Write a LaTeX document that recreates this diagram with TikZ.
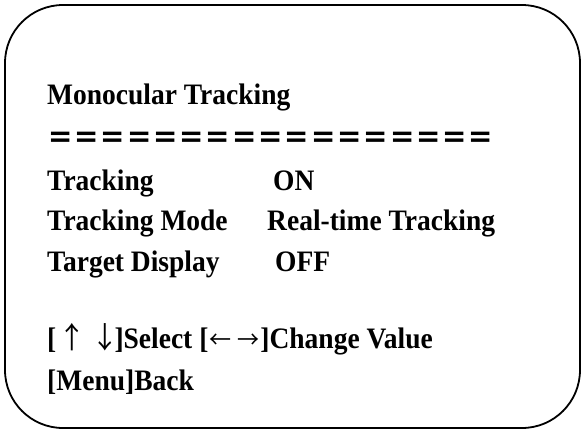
\documentclass[tikz,border=0pt]{standalone}
\usepackage{fontspec}
\setmainfont{Liberation Serif}
\newfontfamily\cjk{Noto Sans CJK SC}
\usetikzlibrary{positioning}

\begin{document}
\begin{tikzpicture}[x=1pt,y=-1pt, menu text/.style={anchor=base west,inner sep=0pt,font=\fontsize{27.5}{30}\selectfont\bfseries,yscale=1.08,transform shape}, value text/.style={menu text}]

  \useasboundingbox (0,0) rectangle (584,434);
  \draw[line width=1.8pt, rounded corners=58pt] (5,5) rectangle (580,428);

  \node[menu text] (title) at (47,104) {Monocular Tracking};
  \node[menu text, font=\fontsize{26.3}{30}\selectfont\cjk\bfseries] (rule) at (47,148) {＝＝＝＝＝＝＝＝＝＝＝＝＝＝＝＝＝};
  \node[menu text] (track) at (47,190) {Tracking};
  \node[value text] (trackval) at (273,190) {ON};
  \node[menu text] (mode) at (47,230) {Tracking Mode};
  \node[value text] (modeval) at (267,230) {Real-time Tracking};
  \node[menu text] (target) at (47,271) {Target Display};
  \node[value text] (targetval) at (275,271) {OFF};
  \node[menu text] (keys) at (47,348) {[{\cjk\mdseries\kern2pt↑\kern-1pt\ ↓}\kern-4pt]Select [{\cjk\mdseries\fontsize{22}{30}\selectfont\kern1pt←\kern6pt→}\kern1pt]Change Value};
  \node[menu text] (back) at (47,390) {[Menu]Back};

\end{tikzpicture}
\end{document}
